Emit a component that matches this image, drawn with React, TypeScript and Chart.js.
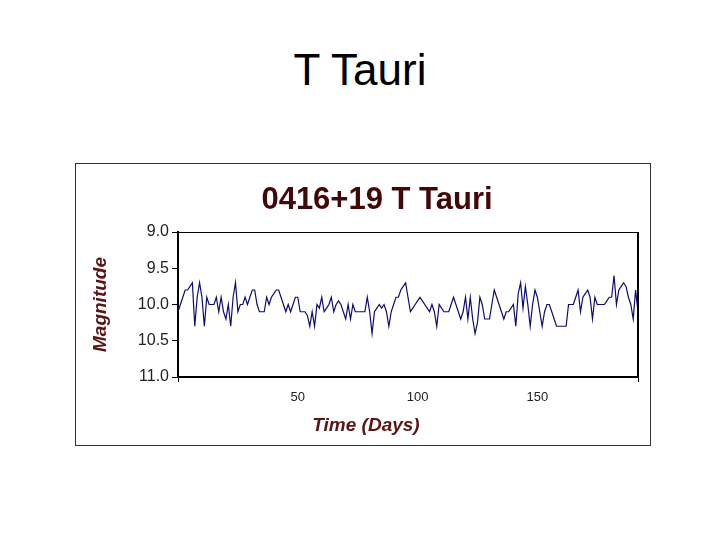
import React, { useEffect, useRef } from "react";
import { Chart, registerables } from "chart.js";

Chart.register(...registerables);

const pageTitle = "T Tauri";
const chartTitle = "0416+19 T Tauri";
const yAxisTitle = "Magnitude";
const xAxisTitle = "Time (Days)";

const magnitudes: number[] = [
  10.1, 10.0, 9.9, 9.8, 9.8, 9.75, 9.7, 10.3, 9.9, 9.7,
  9.9, 10.3, 9.9, 10.0, 10.0, 10.0, 9.9, 10.1, 9.9, 10.1,
  10.2, 10.0, 10.3, 9.9, 9.7, 10.1, 10.0, 10.0, 9.9, 10.0,
  9.9, 9.8, 9.8, 10.0, 10.1, 10.1, 10.1, 9.9, 10.0, 9.9,
  9.85, 9.8, 9.8, 9.9, 10.0, 10.1, 10.0, 10.1, 10.0, 9.9,
  9.9, 10.1, 10.1, 10.1, 10.15, 10.3, 10.1, 10.3, 10.0, 10.05,
  9.9, 10.1, 10.05, 10.0, 9.9, 10.1, 10.0, 9.95, 10.0, 10.1,
  10.2, 10.0, 10.2, 10.0, 10.1, 10.1, 10.1, 10.1, 10.1, 9.9,
  10.1, 10.4, 10.1, 10.05, 10.0, 10.05, 10.0, 10.1, 10.3, 10.1,
  10.0, 9.9, 9.9, 9.8, 9.75, 9.7, 9.9, 10.1, 10.05, 10.0,
  9.95, 9.9, 9.95, 10.0, 10.05, 10.1, 10.0, 10.1, 10.3, 10.0,
  10.05, 10.1, 10.1, 10.1, 10.0, 9.9, 10.0, 10.1, 10.2, 10.1,
  9.9, 10.2, 9.9, 10.2, 10.4, 10.25, 9.9, 10.0, 10.2, 10.2,
  10.2, 10.0, 9.8, 9.9, 10.0, 10.1, 10.2, 10.1, 10.1, 10.05,
  10.0, 10.3, 9.85, 9.7, 10.05, 9.75, 10.0, 10.3, 10.0, 9.8,
  9.9, 10.1, 10.3, 10.1, 10.0, 10.0, 10.1, 10.2, 10.3, 10.3,
  10.3, 10.3, 10.3, 10.0, 10.0, 10.0, 9.9, 9.8, 10.1, 9.9,
  9.85, 9.8, 9.9, 10.2, 9.9, 10.0, 10.0, 10.0, 10.0, 9.95,
  9.9, 9.9, 9.6, 10.0, 9.8, 9.75, 9.7, 9.75, 9.9, 10.0,
  10.2, 9.8, 10.1,
];

const days: number[] = magnitudes.map((_, i) => i);

const xMin = 0;
const xMax = 192;
const xStep = 50;
const yMin = 9.0;
const yMax = 11.0;
const yStep = 0.5;

const MAROON_DARK = "#420808";
const MAROON = "#5a1414";
const FONT = "'Liberation Sans', Arial, sans-serif";

const textPlugin = {
  id: "textPlugin",
  afterDraw(chart: any) {
    const ctx = chart.ctx;
    const area = chart.chartArea;
    ctx.save();
    ctx.strokeStyle = "#000";
    ctx.lineWidth = 1;
    ctx.beginPath();
    ctx.moveTo(area.left, area.top + 0.5);
    ctx.lineTo(area.right, area.top + 0.5);
    ctx.stroke();
    ctx.lineWidth = 2;
    ctx.beginPath();
    ctx.moveTo(area.right, area.top);
    ctx.lineTo(area.right, area.bottom);
    ctx.stroke();
    ctx.fillStyle = MAROON_DARK;
    ctx.font = `bold 31px ${FONT}`;
    ctx.textAlign = "center";
    ctx.textBaseline = "alphabetic";
    ctx.fillText(chartTitle, 301, 44.5);
    ctx.fillStyle = MAROON;
    ctx.font = `italic bold 19px ${FONT}`;
    ctx.fillText(xAxisTitle, 290, 266.5);
    ctx.restore();
  },
};

function App() {
  const canvasRef = useRef<HTMLCanvasElement | null>(null);

  useEffect(() => {
    if (!canvasRef.current) return;
    const chart = new Chart(canvasRef.current, {
      type: "line",
      data: {
        datasets: [
          {
            data: days.map((d, i) => ({ x: d, y: magnitudes[i] })),
            borderColor: "#0c0c72",
            borderWidth: 1.2,
            pointRadius: 0,
            tension: 0,
            fill: false,
          },
        ],
      },
      options: {
        animation: false,
        responsive: false,
        maintainAspectRatio: false,
        layout: { padding: { left: 0, right: 12, top: 68, bottom: 0 } },
        plugins: {
          legend: { display: false },
          title: { display: false },
          tooltip: { enabled: false },
        },
        scales: {
          x: {
            type: "linear",
            min: xMin,
            max: xMax,
            afterFit: (scale: any) => {
              scale.height = 68;
            },
            ticks: {
              stepSize: xStep,
              autoSkip: false,
              maxRotation: 0,
              padding: 8,
              color: "#222",
              font: { family: FONT, size: 13 },
              callback: (v: any) => (v === xMin || v === xMax ? "" : String(v)),
            },
            grid: {
              drawOnChartArea: false,
              drawTicks: true,
              tickLength: 5,
              color: (c: any) =>
                c.tick && (c.tick.value === xMin || c.tick.value === xMax) ? "#000" : "rgba(0,0,0,0)",
            },
            border: { color: "#000", width: 2 },
          },
          y: {
            type: "linear",
            reverse: true,
            min: yMin,
            max: yMax,
            afterFit: (scale: any) => {
              scale.width = 102;
            },
            ticks: {
              stepSize: yStep,
              padding: 3,
              color: "#222",
              font: { family: FONT, size: 16 },
              callback: (v: any) => Number(v).toFixed(1),
            },
            grid: {
              drawOnChartArea: false,
              drawTicks: true,
              tickLength: 6,
              color: "#000",
            },
            border: { color: "#000", width: 2 },
            title: {
              display: true,
              text: yAxisTitle,
              color: MAROON,
              font: { family: FONT, size: 19, weight: "bold", style: "italic" },
              padding: { top: 13, bottom: 0 },
            },
          },
        },
      },
      plugins: [textPlugin],
    } as any);
    return () => chart.destroy();
  }, []);

  return (
    <div
      style={{
        position: "absolute",
        left: 0,
        top: 0,
        width: 720,
        height: 540,
        background: "#fff",
        fontFamily: FONT,
      }}
    >
      <div
        style={{
          position: "absolute",
          left: 0,
          top: 48,
          width: 720,
          textAlign: "center",
          fontSize: 44,
          lineHeight: "44px",
          color: "#000",
        }}
      >
        {pageTitle}
      </div>
      <div
        style={{
          position: "absolute",
          left: 75,
          top: 163,
          width: 576,
          height: 283,
          boxSizing: "border-box",
          border: "1px solid #333",
        }}
      >
        <canvas ref={canvasRef} width={574} height={281} style={{ display: "block" }} />
      </div>
    </div>
  );
}

export default App;
